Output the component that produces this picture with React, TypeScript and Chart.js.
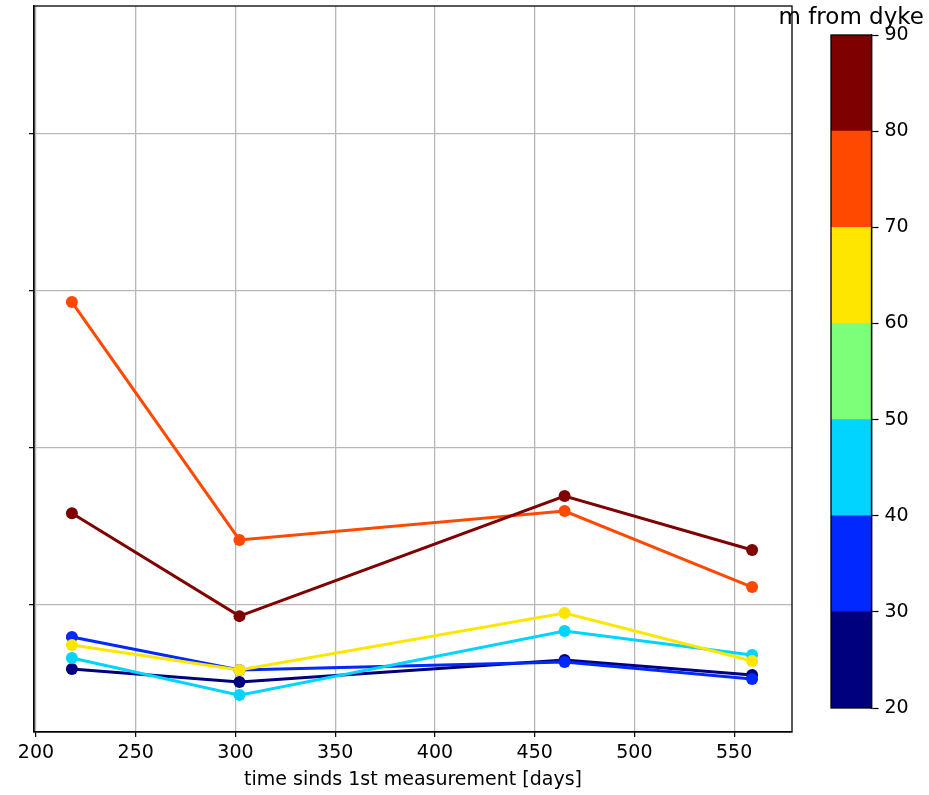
import React, { useEffect, useRef } from "react";
import { Chart, registerables } from "chart.js";

Chart.register(...registerables);

// x values: time since 1st measurement [days]
const days = [218, 302, 465, 559];

// series keyed by distance from dyke [m] (values in arbitrary units; y tick labels hidden)
const dist85 = [1.58, 0.925, 1.69, 1.346];
const dist75 = [2.925, 1.41, 1.594, 1.11];
const dist65 = [0.741, 0.582, 0.945, 0.639];
const dist45 = [0.658, 0.422, 0.83, 0.677];
const dist35 = [0.792, 0.582, 0.633, 0.524];
const dist25 = [0.588, 0.505, 0.645, 0.55];

const seriesNames = ["85 m", "75 m", "65 m", "45 m", "35 m", "25 m"];
const seriesValues = [dist85, dist75, dist65, dist45, dist35, dist25];
const seriesColors = ["#7f0000", "#ff4800", "#ffe600", "#00d4ff", "#0028ff", "#00007f"];

const xTicks = [200, 250, 300, 350, 400, 450, 500, 550];
const yTicks = [1, 2, 3, 4];
const xTitle = "time sinds 1st measurement [days]";

// colorbar bins
const binEdges = [20, 30, 40, 50, 60, 70, 80, 90];
const binColors = ["#00007f", "#0028ff", "#00d4ff", "#7dff7a", "#ffe600", "#ff4800", "#7f0000"];
const colorbarTitle = "m from dyke";

const FONT = "'DejaVu Sans', sans-serif";

const framePlugin = {
  id: "frame",
  afterDraw(chart: any) {
    const { ctx, chartArea } = chart;
    ctx.save();
    ctx.strokeStyle = "#000";
    ctx.lineWidth = 1.3;
    ctx.strokeRect(chartArea.left, chartArea.top, chartArea.right - chartArea.left, chartArea.bottom - chartArea.top);
    ctx.restore();
  },
};

const cbTitlePlugin = {
  id: "cbTitle",
  afterDraw(chart: any) {
    const { ctx, chartArea } = chart;
    ctx.save();
    ctx.fillStyle = "#000";
    ctx.font = `23px ${FONT}`;
    ctx.textAlign = "center";
    ctx.textBaseline = "alphabetic";
    ctx.fillText(colorbarTitle, (chartArea.left + chartArea.right) / 2, chartArea.top - 11);
    ctx.restore();
  },
};

export default function App() {
  const mainRef = useRef<HTMLCanvasElement>(null);
  const barRef = useRef<HTMLCanvasElement>(null);

  useEffect(() => {
    const main = new Chart(mainRef.current!, {
      type: "line",
      data: {
        datasets: seriesValues.map((vals, i) => ({
          label: seriesNames[i],
          data: vals.map((v, j) => ({ x: days[j], y: v })),
          borderColor: seriesColors[i],
          backgroundColor: seriesColors[i],
          pointBackgroundColor: seriesColors[i],
          pointBorderColor: seriesColors[i],
          borderWidth: 3,
          pointRadius: 6,
          pointBorderWidth: 0,
          tension: 0,
          fill: false,
        })),
      },
      options: {
        animation: false,
        responsive: false,
        events: [],
        layout: { padding: { left: 29, top: 6, right: 137, bottom: 0 } },
        plugins: { legend: { display: false }, tooltip: { enabled: false }, title: { display: false } },
        scales: {
          x: {
            type: "linear",
            min: 199,
            max: 579,
            afterBuildTicks: (s: any) => {
              s.ticks = xTicks.map((v) => ({ value: v }));
            },
            grid: { color: "#b8b8b8", lineWidth: 1.3, tickLength: 5, tickColor: "#000", tickWidth: 1.2 },
            border: { display: true, color: "#000", width: 1.3 },
            ticks: { color: "#000", font: { family: FONT, size: 19 }, padding: 5, maxRotation: 0 },
            title: {
              display: true,
              text: xTitle,
              color: "#000",
              font: { family: FONT, size: 19 },
              padding: { top: -1.2, bottom: 3.6 },
            },
          },
          y: {
            type: "linear",
            min: 0.187,
            max: 4.811,
            afterBuildTicks: (s: any) => {
              s.ticks = yTicks.map((v) => ({ value: v }));
            },
            grid: { color: "#b8b8b8", lineWidth: 1.3, tickLength: 5, tickColor: "#000", tickWidth: 1.2 },
            border: { display: true, color: "#000", width: 1.3 },
            ticks: { display: false },
          },
        },
      },
      plugins: [framePlugin],
    });

    const bar = new Chart(barRef.current!, {
      type: "bar",
      data: {
        labels: [colorbarTitle],
        datasets: binColors.map((c, i) => ({
          label: `${binEdges[i]}-${binEdges[i + 1]}`,
          data: [[binEdges[i], binEdges[i + 1]]] as any,
          backgroundColor: c,
          borderWidth: 0,
          barPercentage: 1,
          categoryPercentage: 1,
          grouped: false,
        })),
      },
      options: {
        animation: false,
        responsive: false,
        events: [],
        layout: { padding: { left: 71, top: 35, right: 17, bottom: 87 } },
        plugins: {
          legend: { display: false },
          tooltip: { enabled: false },
          title: { display: false },
        },
        scales: {
          x: { display: false },
          y: {
            position: "right",
            min: 20,
            max: 90,
            afterBuildTicks: (s: any) => {
              s.ticks = binEdges.map((v) => ({ value: v }));
            },
            grid: { drawOnChartArea: false, drawTicks: true, tickLength: 7, tickColor: "#000", tickWidth: 1.2 },
            border: { display: true, color: "#000", width: 1.3 },
            ticks: { color: "#000", font: { family: FONT, size: 19 }, padding: 6 },
          },
        },
      },
      plugins: [framePlugin, cbTitlePlugin],
    });

    return () => {
      main.destroy();
      bar.destroy();
    };
  }, []);

  return (
    <div style={{ position: "fixed", left: 0, top: 0, width: 929, height: 795, background: "#fff" }}>
      <canvas ref={mainRef} width={929} height={795} style={{ position: "absolute", left: 0, top: 0 }} />
      <canvas ref={barRef} width={169} height={795} style={{ position: "absolute", left: 760, top: 0 }} />
    </div>
  );
}
